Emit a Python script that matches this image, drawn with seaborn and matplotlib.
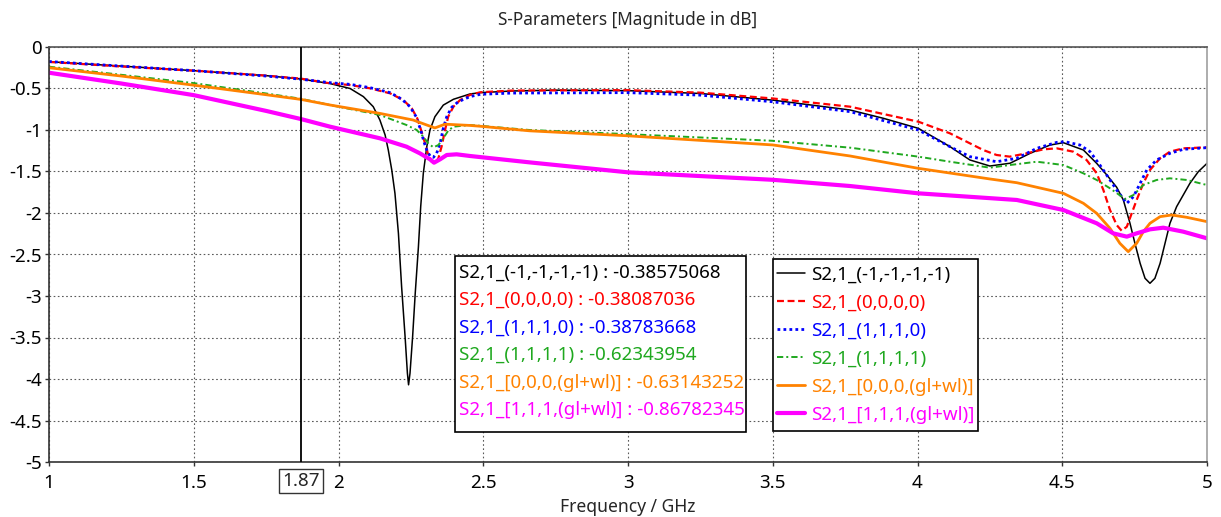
import matplotlib
matplotlib.use("Agg")
import matplotlib.pyplot as plt
from matplotlib.lines import Line2D
from matplotlib.patches import Rectangle
from matplotlib.ticker import FixedLocator, FuncFormatter
import pandas as pd
import seaborn as sns

# Series names (S21 for the different switch states)
names = [
    "S2,1_(-1,-1,-1,-1)",
    "S2,1_(0,0,0,0)",
    "S2,1_(1,1,1,0)",
    "S2,1_(1,1,1,1)",
    "S2,1_[0,0,0,(gl+wl)]",
    "S2,1_[1,1,1,(gl+wl)]",
]

# Frequency (GHz) and magnitude (dB) for each state
freq_m1 = [1.0, 1.25, 1.5, 1.75, 1.87, 1.97, 2.04, 2.086, 2.12, 2.143, 2.161, 2.172, 2.184, 2.195,
           2.207, 2.218, 2.23, 2.238, 2.242, 2.247, 2.256, 2.265, 2.276, 2.284, 2.293, 2.305, 2.316,
           2.333, 2.362, 2.397, 2.454, 2.49, 2.6, 2.75, 3.0, 3.25, 3.5, 3.767, 3.882, 4.003, 4.112,
           4.181, 4.25, 4.32, 4.389, 4.458, 4.504, 4.573, 4.619, 4.654, 4.688, 4.711, 4.734, 4.751,
           4.769, 4.786, 4.803, 4.82, 4.838, 4.855, 4.872, 4.895, 4.918, 4.941, 4.97, 5.0]
db_m1 = [-0.177, -0.23, -0.285, -0.345, -0.38575068, -0.44, -0.50, -0.598, -0.719, -0.88, -1.06,
         -1.241, -1.482, -1.763, -2.245, -2.888, -3.49, -3.93, -4.07, -3.93, -3.49, -2.97, -2.41,
         -1.92, -1.52, -1.20, -1.0, -0.84, -0.70, -0.63, -0.566, -0.55, -0.53, -0.52, -0.526, -0.56,
         -0.64, -0.759, -0.859, -0.98, -1.20, -1.361, -1.434, -1.40, -1.281, -1.181, -1.153, -1.241,
         -1.402, -1.542, -1.69, -1.843, -2.124, -2.365, -2.606, -2.787, -2.847, -2.787, -2.606,
         -2.365, -2.124, -1.924, -1.783, -1.642, -1.502, -1.402]

freq_0 = [1.0, 1.25, 1.5, 1.75, 1.87, 1.971, 2.04, 2.109, 2.178, 2.224, 2.253, 2.272, 2.287, 2.299,
          2.31, 2.322, 2.333, 2.345, 2.356, 2.368, 2.379, 2.397, 2.42, 2.454, 2.49, 2.6, 3.0, 3.25,
          3.5, 3.767, 4.003, 4.112, 4.227, 4.273, 4.319, 4.377, 4.435, 4.481, 4.538, 4.584, 4.619,
          4.642, 4.665, 4.688, 4.705, 4.723, 4.74, 4.757, 4.78, 4.803, 4.838, 4.872, 4.918, 5.0]
db_0 = [-0.18, -0.235, -0.285, -0.345, -0.38087036, -0.438, -0.458, -0.498, -0.558, -0.639, -0.739,
        -0.859, -1.02, -1.161, -1.301, -1.382, -1.402, -1.341, -1.201, -1.0, -0.839, -0.719, -0.639,
        -0.578, -0.545, -0.525, -0.52, -0.55, -0.62, -0.719, -0.90, -1.04, -1.241, -1.301, -1.321,
        -1.281, -1.233, -1.221, -1.261, -1.361, -1.522, -1.723, -1.964, -2.145, -2.213, -2.165,
        -2.004, -1.843, -1.643, -1.482, -1.341, -1.261, -1.221, -1.209]

freq_1110 = [1.0, 1.25, 1.5, 1.75, 1.87, 1.971, 2.04, 2.109, 2.178, 2.218, 2.247, 2.268, 2.284, 2.295,
             2.307, 2.318, 2.328, 2.339, 2.351, 2.362, 2.374, 2.391, 2.414, 2.454, 2.49, 2.6, 3.0,
             3.25, 3.5, 3.767, 4.003, 4.112, 4.181, 4.273, 4.343, 4.412, 4.481, 4.51, 4.561, 4.596,
             4.63, 4.665, 4.688, 4.723, 4.746, 4.769, 4.792, 4.826, 4.872, 4.918, 5.0]
db_1110 = [-0.175, -0.23, -0.285, -0.35, -0.38783668, -0.43, -0.45, -0.49, -0.55, -0.627, -0.719,
           -0.839, -1.0, -1.141, -1.261, -1.321, -1.329, -1.281, -1.161, -0.98, -0.839, -0.727,
           -0.659, -0.598, -0.57, -0.555, -0.55, -0.58, -0.66, -0.779, -1.0, -1.201, -1.321, -1.382,
           -1.341, -1.221, -1.149, -1.141, -1.181, -1.261, -1.422, -1.602, -1.723, -1.883, -1.803,
           -1.643, -1.482, -1.361, -1.281, -1.233, -1.213]

freq_1111 = [1.0, 1.25, 1.5, 1.75, 1.87, 1.971, 2.143, 2.235, 2.27, 2.293, 2.31, 2.328, 2.345, 2.362,
             2.379, 2.397, 2.454, 2.49, 2.66, 3.0, 3.5, 3.767, 4.003, 4.112, 4.25, 4.319, 4.412,
             4.504, 4.573, 4.619, 4.665, 4.717, 4.746, 4.78, 4.826, 4.872, 4.93, 5.0]
db_1111 = [-0.237, -0.335, -0.435, -0.56, -0.62343954, -0.699, -0.819, -0.94, -1.0, -1.08, -1.161,
           -1.209, -1.181, -1.10, -1.008, -0.96, -0.94, -0.95, -1.0, -1.05, -1.13, -1.213, -1.321,
           -1.382, -1.454, -1.422, -1.382, -1.422, -1.522, -1.602, -1.703, -1.831, -1.783, -1.663,
           -1.602, -1.582, -1.602, -1.663]

freq_gw0 = [1.0, 1.25, 1.5, 1.75, 1.87, 1.971, 2.143, 2.258, 2.305, 2.333, 2.368, 2.454, 2.49, 2.66,
            3.0, 3.5, 3.767, 4.003, 4.25, 4.343, 4.504, 4.573, 4.619, 4.665, 4.699, 4.728, 4.757,
            4.78, 4.803, 4.838, 4.878, 4.93, 5.0]
db_gw0 = [-0.25, -0.35, -0.46, -0.575, -0.63143252, -0.699, -0.80, -0.88, -0.94, -0.975, -0.93,
          -0.945, -0.955, -1.01, -1.07, -1.18, -1.313, -1.462, -1.59, -1.635, -1.763, -1.883, -2.004,
          -2.185, -2.365, -2.466, -2.365, -2.225, -2.124, -2.044, -2.024, -2.052, -2.104]

freq_gw1 = [1.0, 1.25, 1.5, 1.75, 1.87, 1.971, 2.143, 2.235, 2.281, 2.316, 2.33, 2.351, 2.374, 2.408,
            2.454, 2.66, 3.0, 3.5, 3.767, 4.003, 4.343, 4.504, 4.619, 4.676, 4.723, 4.757, 4.803,
            4.849, 4.918, 5.0]
db_gw1 = [-0.31, -0.44, -0.58, -0.77, -0.86782345, -0.96, -1.10, -1.201, -1.281, -1.353, -1.394,
          -1.353, -1.301, -1.293, -1.313, -1.39, -1.51, -1.60, -1.675, -1.763, -1.843, -1.964,
          -2.124, -2.245, -2.285, -2.245, -2.197, -2.177, -2.225, -2.305]

marker_freq = 1.87
x_ticks = [1, 1.5, 2, 2.5, 3, 3.5, 4, 4.5, 5]
y_ticks = [0, -0.5, -1, -1.5, -2, -2.5, -3, -3.5, -4, -4.5, -5]

series = [(freq_m1, db_m1), (freq_0, db_0), (freq_1110, db_1110),
          (freq_1111, db_1111), (freq_gw0, db_gw0), (freq_gw1, db_gw1)]

colors = ["#000000", "#ff0000", "#0000ff", "#1fa81f", "#ff8200", "#ff00ff"]
widths = [1.1, 1.6, 2.0, 1.4, 2.0, 3.0]
dash_styles = ["", (5.0, 2.6), (2.0, 2.3), (4.5, 2.2, 1.4, 2.2), "", ""]

frames = []
for name, (f, d) in zip(names, series):
    frames.append(pd.DataFrame({"Frequency": f, "dB": d, "trace": name}))
data = pd.concat(frames, ignore_index=True)

sns.set_theme(style="ticks")
plt.rcParams["font.family"] = ["Noto Sans", "DejaVu Sans"]
plt.rcParams["axes.unicode_minus"] = False
plt.rcParams["lines.scale_dashes"] = False

FS = 13.5
W, H = 1221, 517
fig = plt.figure(figsize=(W / 100, H / 100), dpi=100)
ax = fig.add_axes([49 / W, 55 / H, 1158 / W, 415 / H])

sns.lineplot(
    data=data, x="Frequency", y="dB", hue="trace", style="trace", size="trace",
    hue_order=names, style_order=names, size_order=names,
    palette=dict(zip(names, colors)),
    dashes=dict(zip(names, dash_styles)),
    sizes=dict(zip(names, widths)),
    estimator=None, sort=False, legend=False, ax=ax,
)
trace_lines = list(ax.lines)
for ln in trace_lines:
    ln.set_dash_capstyle("butt")
    ln.set_solid_joinstyle("round")

# marker line
ax.axvline(marker_freq, color="#000000", lw=1.3, zorder=5)

ax.set_xlim(1, 5)
ax.set_ylim(-5, 0)
ax.xaxis.set_major_locator(FixedLocator(x_ticks))
ax.yaxis.set_major_locator(FixedLocator(y_ticks))
ax.xaxis.set_major_formatter(FuncFormatter(lambda v, _: f"{v:g}"))
ax.yaxis.set_major_formatter(FuncFormatter(lambda v, _: f"{v:g}"))
ax.tick_params(axis="both", direction="out", length=3, width=1, color="#333333",
               labelsize=FS, labelcolor="#000000")
ax.tick_params(axis="x", pad=6)
ax.tick_params(axis="y", pad=2)
ax.grid(True, color="#5a5a5a", linestyle=(0, (1.2, 1.8)), linewidth=0.8)
for side, c in [("left", "#333333"), ("bottom", "#333333"), ("top", "#555555"), ("right", "#a0a0a0")]:
    ax.spines[side].set_color(c)
    ax.spines[side].set_linewidth(1.2)

ax.set_xlabel("Frequency / GHz", fontsize=12.6, va="center")
ax.xaxis.set_label_coords(0.5, -(507 - 462) / 415)
ax.set_ylabel("")
ax.set_title("S-Parameters [Magnitude in dB]", fontsize=12.4, y=1 + 27 / 415, va="center", pad=0)

# marker position label under the axis
ax.annotate(f"{marker_freq:g}", xy=(marker_freq, 0), xycoords=("data", "axes fraction"),
            xytext=(0, -19), textcoords="offset pixels", ha="center", va="center",
            fontsize=FS, bbox=dict(boxstyle="square,pad=0.18", fc="white", ec="#333333", lw=1.0))


def framed_box(x0, y0, x1, y1):
    """White box with a black border, given in figure pixels from the top-left."""
    rect = Rectangle((x0 / W, 1 - y1 / H), (x1 - x0) / W, (y1 - y0) / H,
                     transform=fig.transFigure, facecolor="white", edgecolor="#000000",
                     linewidth=1.2, zorder=4.5, clip_on=False)
    ax.add_patch(rect)


# marker readout box
framed_box(455, 256, 746, 432)
readout_handles = []
readout_labels = []
for name, (f, d), c in zip(names, series, colors):
    val = d[f.index(marker_freq)]
    readout_handles.append(Line2D([], [], color=c, lw=0))
    readout_labels.append(f"{name} : {val:.8f}")
leg1 = ax.legend(readout_handles, readout_labels, loc="upper left",
                 bbox_to_anchor=(459 / W, 1 - 263.5 / H), bbox_transform=fig.transFigure,
                 borderaxespad=0, fontsize=FS, handlelength=0, handletextpad=0,
                 labelspacing=0.51, borderpad=0, frameon=False, labelcolor="linecolor")
leg1.set_zorder(6)
ax.add_artist(leg1)

# series legend
framed_box(773, 259, 978, 431)
leg2 = ax.legend(trace_lines, names, loc="upper left",
                 bbox_to_anchor=(777 / W, 1 - 266 / H), bbox_transform=fig.transFigure,
                 borderaxespad=0, fontsize=FS, handlelength=1.5, handletextpad=0.32,
                 labelspacing=0.53, borderpad=0, frameon=False, labelcolor="linecolor")
leg2.set_zorder(6)

fig.savefig("out.png", dpi=100, facecolor="white")
